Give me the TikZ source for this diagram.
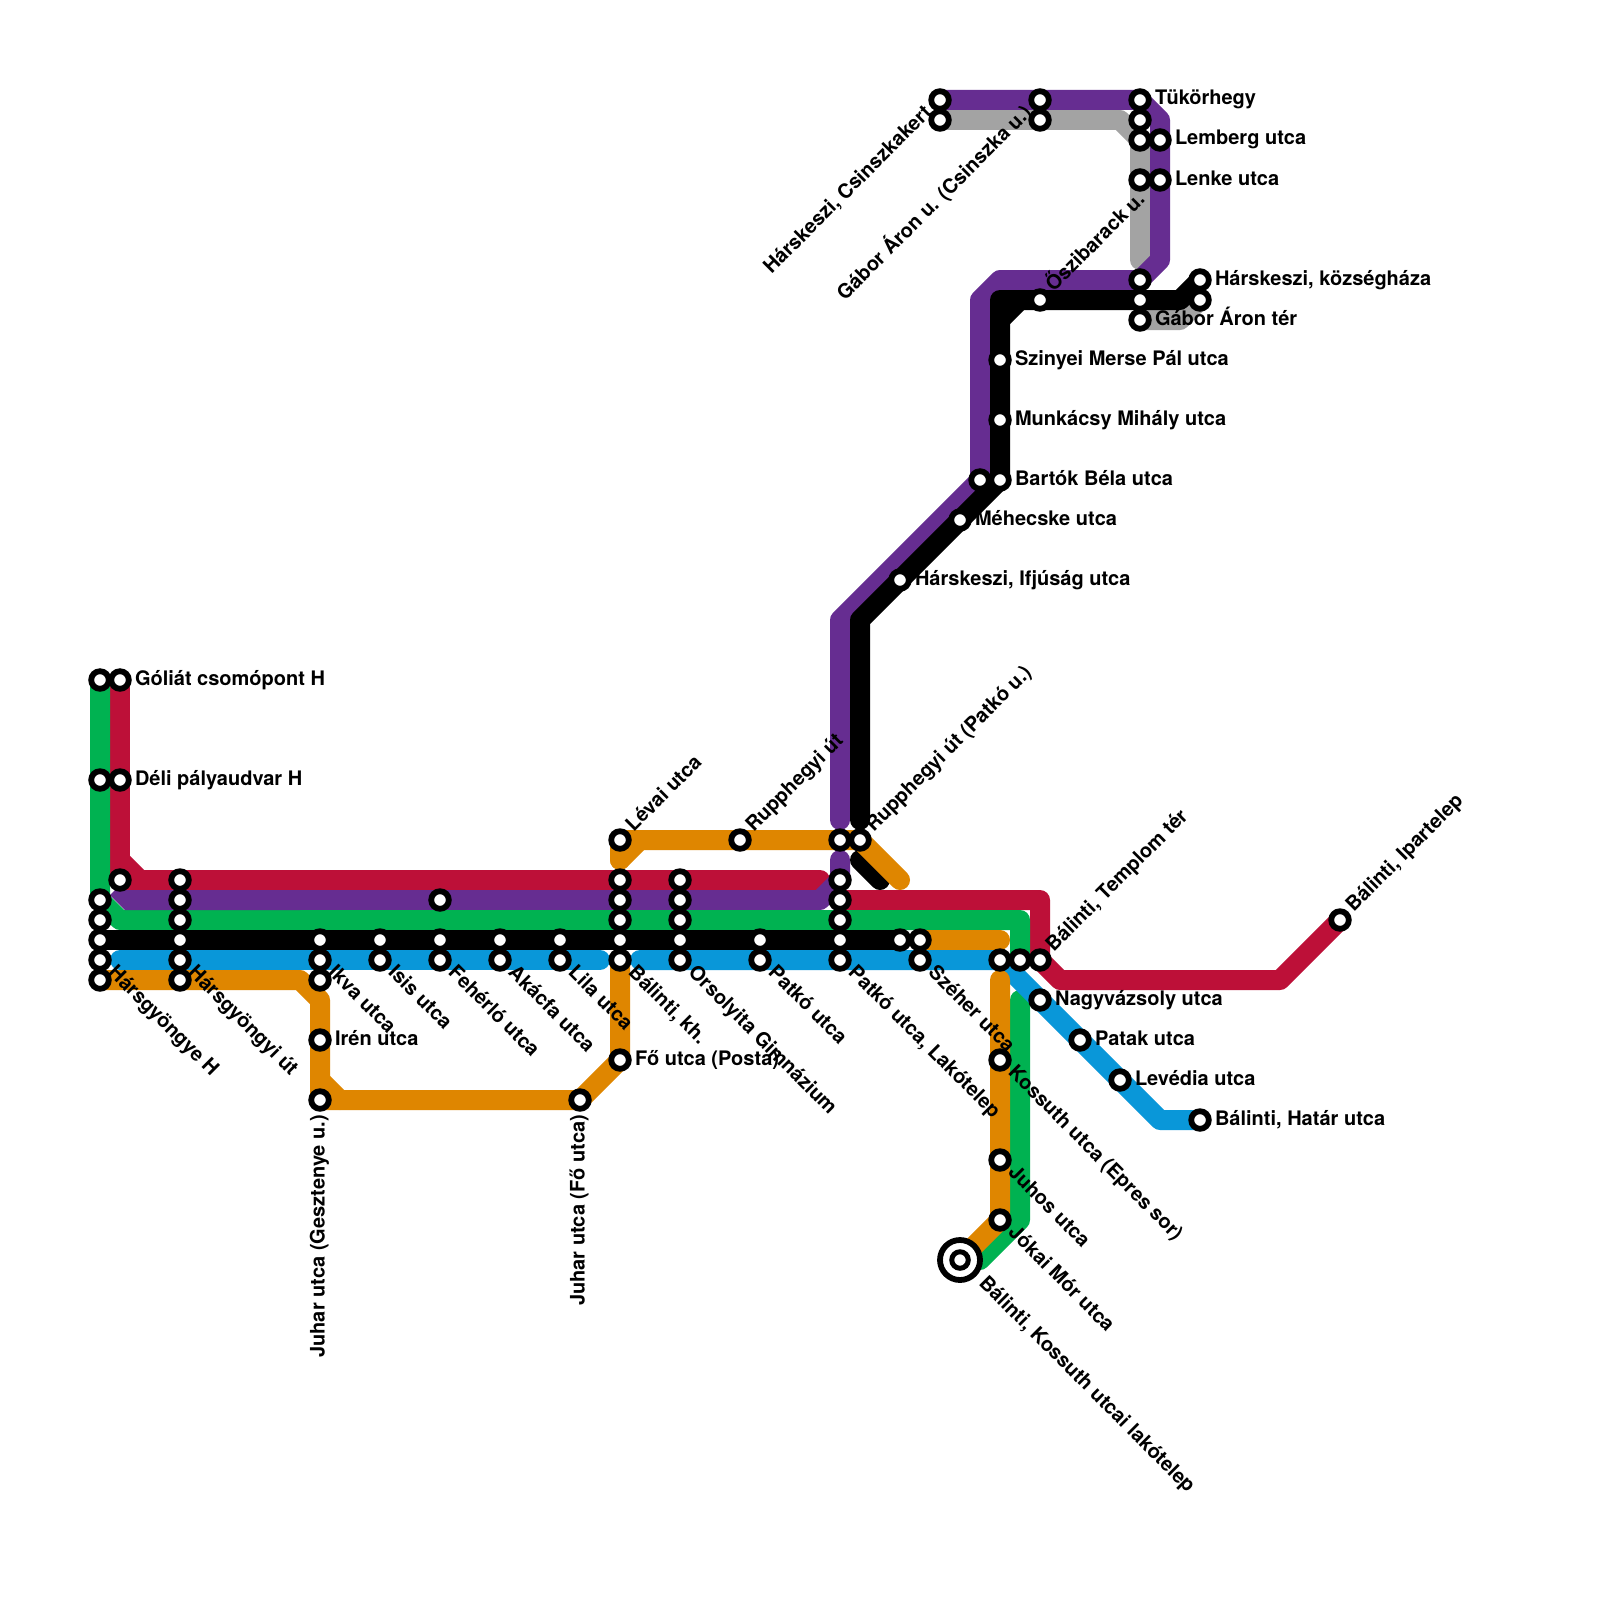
\documentclass[tikz,border=0pt]{standalone}
\usepackage{fontspec}
\setmainfont{TeX Gyre Heros}
\definecolor{lgreen}{RGB}{0,178,81}
\definecolor{lred}{RGB}{189,16,56}
\definecolor{lpurple}{RGB}{102,45,145}
\definecolor{lblue}{RGB}{9,151,217}
\definecolor{lorange}{RGB}{223,134,0}
\definecolor{lgrey}{RGB}{163,163,163}
\tikzset{
  metro/.style={line width=20pt,line cap=round,line join=round},
  stn/.style={circle,draw=black,fill=white,line width=5.8pt,minimum size=17.6pt,inner sep=0pt,outer sep=0pt},
  lab/.style={font=\fontsize{20}{22}\selectfont\bfseries,inner sep=0pt,outer sep=0pt,text=black},
  east lab/.style={lab,anchor=base west,xshift=15pt,yshift=-5pt},
  ne lab/.style={lab,rotate=45,anchor=base west,xshift=15pt,yshift=-4.5pt},
  se lab/.style={lab,rotate=-45,anchor=base west,xshift=15pt,yshift=-4.5pt},
  sw lab/.style={lab,rotate=45,anchor=base east,xshift=-15pt,yshift=-4.5pt},
  south lab/.style={lab,rotate=90,anchor=base east,xshift=-15pt,yshift=-4.5pt},
}
\begin{document}
\begin{tikzpicture}[x=1pt,y=-1pt]
\useasboundingbox[fill=white] (0,0) rectangle (1600,1600);
% named points: stations and bends
\foreach \x/\y in {100/680,120/680,100/780,120/780,120/880,100/900,100/920,100/940,100/960,100/980,
 180/880,180/900,180/920,180/940,180/960,180/980,320/940,320/960,320/980,320/1040,320/1100,
 380/940,380/960,440/900,440/940,440/960,500/940,500/960,560/940,560/960,
 620/840,620/880,620/900,620/920,620/940,620/960,620/1060,580/1100,
 680/880,680/900,680/920,680/940,680/960,740/840,760/940,760/960,
 840/840,840/880,840/900,840/920,840/940,840/960,860/840,900/940,920/940,920/960,
 1000/960,1020/960,1040/960,1040/1000,1080/1040,1120/1080,1200/1120,
 1000/1060,1000/1160,1000/1220,960/1260,1340/920,
 1000/480,980/480,960/520,900/580,1000/360,1000/420,1040/300,
 1140/280,1140/300,1140/320,1200/280,1200/300,
 940/100,940/120,1040/100,1040/120,1140/100,1140/120,1140/140,1140/180,1160/140,1160/180}
 {\coordinate (c\x-\y) at (\x,\y);}
\foreach \x/\y in {120/860,140/880,100/900,120/920,1020/920,1020/1000,1020/1220,980/1260,
 820/880,840/860,820/900,1040/900,1060/980,1280/980,
 840/820,840/620,860/820,860/620,1000/300,1000/320,1020/300,980/300,1000/280,1160/260,1160/120,
 1180/300,1120/120,1140/260,1180/320,300/980,320/1000,320/1080,340/1100,640/840,620/860,900/880,860/860,880/880,
 600/960,640/960,1160/1120,120/960,1000/940,1000/980}
 {\coordinate (b\x-\y) at (\x,\y);}
\coordinate (pA) at (110,895);\coordinate (pB) at (115,890);\coordinate (pC) at (300,890);\coordinate (pD) at (300,910);\coordinate (pE) at (125,910);
\coordinate (pF) at (300,900);
% grey
\draw[metro,lgrey] (c940-120) -- (b1120-120) -- (c1140-140) -- (b1140-260);
\draw[metro,lgrey] (c1140-320) -- (b1180-320) -- (c1200-300);
% purple, upper part
\draw[metro,lpurple] (b840-820) -- (b840-620) -- (c980-480) -- (b980-300) -- (b1000-280) -- (c1140-280) -- (b1160-260) -- (b1160-120) -- (c1140-100) -- (c940-100);
% red
\draw[metro,lred] (c120-680) -- (c120-880) -- (b820-880);
\draw[metro,lred] (b120-860) -- (b140-880);
\draw[metro,lred] (c840-900) -- (b1040-900) -- (c1040-960) -- (b1060-980) -- (b1280-980) -- (c1340-920);
% green
\draw[metro,lgreen] (c100-680) -- (b100-900) -- (b120-920) -- (b1020-920) -- (c1020-960);
\draw[metro,lgreen] (b1020-1000) -- (b1020-1220) -- (b980-1260);
% purple, lower part
\fill[lpurple] (pA) -- (pB) -- (pC) -- (pD) -- (pE) -- cycle;
\draw[metro,lpurple,line cap=butt] (pF) -- (b820-900);
\draw[metro,lpurple] (b820-900) -- (c840-880) -- (b840-860);
% blue
\draw[metro,lblue] (b120-960) -- (b600-960);
\draw[metro,lblue] (b640-960) -- (c1000-960) -- (b1160-1120) -- (c1200-1120);
% short black stub, then orange
\draw[metro,black] (b860-860) -- (b880-880);
\draw[metro,lorange] (c100-980) -- (b300-980) -- (b320-1000) -- (c320-1100) -- (c580-1100) -- (c620-1060) -- (c620-960);
\draw[metro,lorange] (b320-1080) -- (b340-1100);
\draw[metro,lorange] (b620-860) -- (c620-840) -- (c860-840) -- (b900-880);
\draw[metro,lorange] (b620-860) -- (b640-840);
\draw[metro,lorange] (c920-940) -- (b1000-940);
\draw[metro,lorange] (b1000-980) -- (c1000-1220) -- (c960-1260);
% black
\draw[metro,black] (c100-940) -- (c900-940);
\draw[metro,black] (b860-820) -- (b860-620) -- (c1000-480) -- (b1000-300) -- (b1180-300) -- (c1200-280);
\draw[metro,black] (b1000-320) -- (b1020-300);
% stations
\foreach \x/\y in {100/680,120/680,100/780,120/780,120/880,100/900,100/920,100/940,100/960,100/980,
 180/880,180/900,180/920,180/940,180/960,180/980,320/940,320/960,320/980,320/1040,320/1100,
 380/940,380/960,440/900,440/940,440/960,500/940,500/960,560/940,560/960,
 620/840,620/880,620/900,620/920,620/940,620/960,620/1060,580/1100,
 680/880,680/900,680/920,680/940,680/960,740/840,760/940,760/960,
 840/840,840/880,840/900,840/920,840/940,840/960,860/840,900/940,920/940,920/960,
 1000/960,1020/960,1040/960,1040/1000,1080/1040,1120/1080,1200/1120,
 1000/1060,1000/1160,1000/1220,1340/920,
 1000/480,980/480,960/520,900/580,1000/360,1000/420,1040/300,
 1140/280,1140/300,1140/320,1200/280,1200/300,
 940/100,940/120,1040/100,1040/120,1140/100,1140/120,1140/140,1140/180,1160/140,1160/180}
 {\node[stn] (s\x-\y) at (c\x-\y) {};}
\node[circle,draw=black,fill=white,line width=5.8pt,minimum size=40pt,inner sep=0pt,outer sep=0pt] (s960-1260o) at (c960-1260) {};
\node[circle,draw=black,fill=white,line width=5pt,minimum size=16.5pt,inner sep=0pt,outer sep=0pt] (s960-1260) at (c960-1260) {};
% labels
\node[east lab] (l1) at (c120-680) {Góliát csomópont H};
\node[east lab] (l2) at (c120-780) {Déli pályaudvar H};
\node[east lab] (l3) at (c320-1040) {Irén utca};
\node[east lab] (l4) at (c620-1060) {Fő utca (Posta)};
\node[east lab] (l5) at (c1040-1000) {Nagyvázsoly utca};
\node[east lab] (l6) at (c1080-1040) {Patak utca};
\node[east lab] (l7) at (c1120-1080) {Levédia utca};
\node[east lab] (l8) at (c1200-1120) {Bálinti, Határ utca};
\node[east lab] (l9) at (c1140-100) {Tükörhegy};
\node[east lab] (l10) at (c1160-140) {Lemberg utca};
\node[east lab] (l11) at (c1160-180) {Lenke utca};
\node[east lab] (l12) at (c1200-280) {Hárskeszi, községháza};
\node[east lab] (l13) at (c1140-320) {Gábor Áron tér};
\node[east lab] (l14) at (c1000-360) {Szinyei Merse Pál utca};
\node[east lab] (l15) at (c1000-420) {Munkácsy Mihály utca};
\node[east lab] (l16) at (c1000-480) {Bartók Béla utca};
\node[east lab] (l17) at (c960-520) {Méhecske utca};
\node[east lab] (l18) at (c900-580) {Hárskeszi, Ifjúság utca};
\node[ne lab] (l19) at (c620-840) {Lévai utca};
\node[ne lab] (l20) at (c740-840) {Rupphegyi út};
\node[ne lab] (l21) at (c860-840) {Rupphegyi út (Patkó u.)};
\node[ne lab] (l22) at (c1040-960) {Bálinti, Templom tér};
\node[ne lab] (l23) at (c1340-920) {Bálinti, Ipartelep};
\node[ne lab] (l24) at (c1040-300) {Őszibarack u.};
\node[sw lab] (l25) at (c940-100) {Hárskeszi, Csinszkakert};
\node[sw lab] (l26) at (c1040-100) {Gábor Áron u. (Csinszka u.)};
\node[south lab] (l27) at (c320-1100) {Juhar utca (Gesztenye u.)};
\node[south lab] (l28) at (c580-1100) {Juhar utca (Fő utca)};
\node[se lab] (l29) at (c100-960) {Hársgyöngye H};
\node[se lab] (l30) at (c180-960) {Hársgyöngyi út};
\node[se lab] (l31) at (c320-960) {Ikva utca};
\node[se lab] (l32) at (c380-960) {Isis utca};
\node[se lab] (l33) at (c440-960) {Fehérló utca};
\node[se lab] (l34) at (c500-960) {Akácfa utca};
\node[se lab] (l35) at (c560-960) {Lila utca};
\node[se lab] (l36) at (c620-960) {Bálinti, kh.};
\node[se lab] (l37) at (c680-960) {Orsolyita Gimnázium};
\node[se lab] (l38) at (c760-960) {Patkó utca};
\node[se lab] (l39) at (c840-960) {Patkó utca, Lakótelep};
\node[se lab] (l40) at (c920-960) {Széher utca};
\node[se lab] (l41) at (c1000-1060) {Kossuth utca (Epres sor)};
\node[se lab] (l42) at (c1000-1160) {Juhos utca};
\node[se lab] (l43) at (c1000-1220) {Jókai Mór utca};
\node[se lab,xshift=15pt] (l44) at (c960-1260) {Bálinti, Kossuth utcai lakótelep};
\end{tikzpicture}
\end{document}
